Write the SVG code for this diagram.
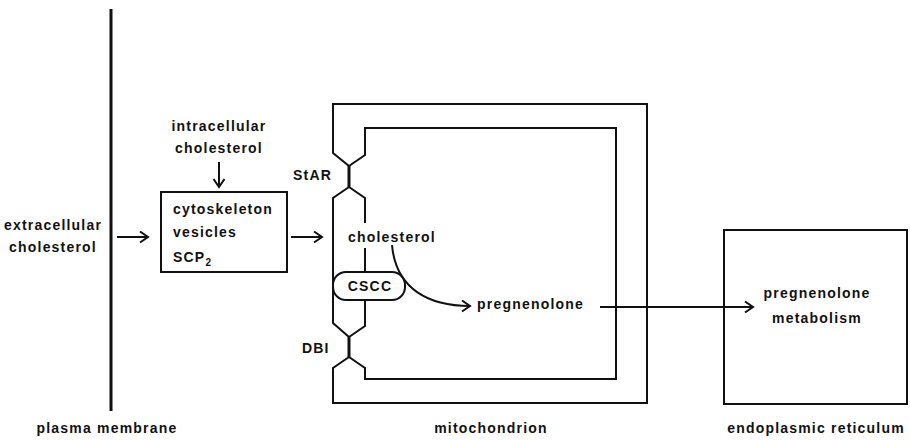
<svg xmlns="http://www.w3.org/2000/svg" width="910" height="440" viewBox="0 0 910 440">
  <style>
    text { font-family: "Liberation Sans", Arial, sans-serif; font-size: 14px; font-weight: bold; letter-spacing: 1.2px; fill: #111; }
    .c { text-anchor: middle; }
    .ln { fill: none; stroke: #111; stroke-width: 2; stroke-linejoin: miter; }
    .pinch { fill: none; stroke: #111; stroke-width: 3; }
    .arr { fill: none; stroke: #111; stroke-width: 2; marker-end: url(#ah); }
  </style>
  <defs>
    <marker id="ah" markerUnits="userSpaceOnUse" markerWidth="12" markerHeight="14" refX="9" refY="6" orient="auto">
      <path d="M1,0.5 L9,6 L1,11.5" fill="none" stroke="#111" stroke-width="2"/>
    </marker>
  </defs>
  <rect width="910" height="440" fill="#fff"/>

  <g id="plasma-membrane">
    <line x1="111" y1="9" x2="111" y2="411" stroke="#111" stroke-width="3"/>
    <text class="c" x="107" y="433">plasma membrane</text>
  </g>

  <g id="extracellular">
    <text class="c" x="53" y="230">extracellular</text>
    <text class="c" x="53" y="252">cholesterol</text>
  </g>

  <g id="intracellular">
    <text class="c" x="219" y="131">intracellular</text>
    <text class="c" x="219" y="153">cholesterol</text>
  </g>

  <g id="transport-box">
    <rect class="ln" x="161" y="192" width="126" height="80"/>
    <text x="173" y="214">cytoskeleton</text>
    <text x="173" y="237">vesicles</text>
    <text x="173" y="262">SCP<tspan font-size="10" dy="4">2</tspan></text>
  </g>

  <g id="mitochondrion">
    <path class="ln" d="M349,166 L333,153 L333,104 L647,104 L647,403 L333,403 L333,368 L349,357"/>
    <path class="ln" d="M349,187 L333,198 L333,323 L349,337"/>
    <path class="ln" d="M349,166 L365,155 L365,128 L616,128 L616,379 L365,379 L365,368 L349,357"/>
    <path class="ln" d="M349,187 L365,198 L365,223 M365,248 L365,272 M365,300 L365,326 L349,337"/>
    <line class="pinch" x1="349" y1="166" x2="349" y2="187"/>
    <line class="pinch" x1="349" y1="337" x2="349" y2="357"/>
    <text x="293" y="180">StAR</text>
    <text x="302" y="353">DBI</text>
    <text x="348" y="242">cholesterol</text>
    <text x="477" y="309">pregnenolone</text>
    <text class="c" x="491" y="433">mitochondrion</text>
  </g>

  <g id="cscc">
    <rect x="333" y="272" width="72" height="28" rx="13" ry="13" fill="#fff" stroke="#111" stroke-width="2"/>
    <text class="c" x="370" y="291">CSCC</text>
  </g>

  <g id="endoplasmic-reticulum">
    <rect class="ln" x="724" y="230" width="183" height="174"/>
    <text class="c" x="817" y="298">pregnenolone</text>
    <text class="c" x="817" y="323">metabolism</text>
    <text class="c" x="816" y="433">endoplasmic reticulum</text>
  </g>

  <g id="connectors">
    <line class="arr" x1="117" y1="237" x2="148" y2="237"/>
    <line class="arr" x1="219" y1="162" x2="219" y2="187"/>
    <line class="arr" x1="291" y1="237" x2="322" y2="237"/>
    <path class="arr" d="M392,245 C396,290 430,306 470,306"/>
    <line class="arr" x1="600" y1="307" x2="753" y2="307"/>
  </g>
</svg>
